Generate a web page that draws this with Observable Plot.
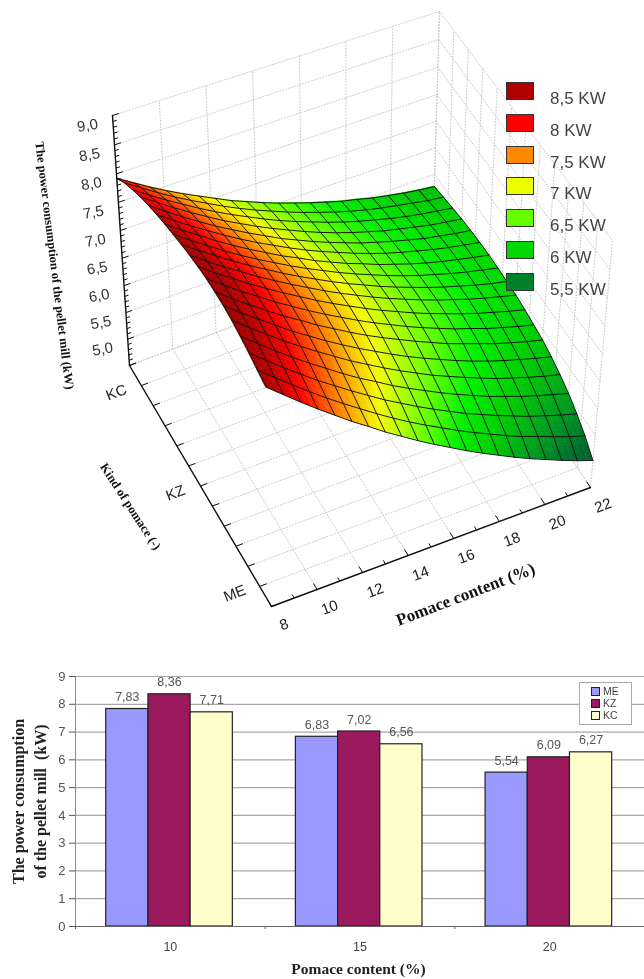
<!DOCTYPE html>
<html>
<head>
<meta charset="utf-8">
<script src="https://cdn.jsdelivr.net/npm/d3@7"></script>
<script src="https://cdn.jsdelivr.net/npm/@observablehq/plot@0.6"></script>
<style>
html,body{margin:0;padding:0;background:#fff}
#page{position:relative;width:644px;height:979px;overflow:hidden;filter:blur(0.4px)}
#page svg{display:block}
.lg{position:absolute;font-family:"Liberation Sans",Arial,sans-serif}
</style>
</head>
<body>
<div id="page"></div>
<script>
// ---------- surface chart data ----------
const pomaceTicks = [8,9,10,11,12,13,14,15,16,17,18,19,20,21,22];
const powerTicks = [4.5,5,5.5,6,6.5,7,7.5,8,8.5,9];
const kindLabels = ["KC","KZ","ME"];
const kindTickSteps = 12;
// surface: rows go from KC (back) to ME (front), columns from 8 % to 22 %
const surface = [
[7.92,7.75,7.58,7.42,7.27,7.13,6.99,6.85,6.73,6.61,6.50,6.40,6.30,6.21,6.12,6.05,5.97,5.91,5.85,5.80,5.76],
[8.08,7.90,7.72,7.55,7.39,7.24,7.09,6.95,6.82,6.70,6.58,6.47,6.37,6.27,6.18,6.10,6.03,5.97,5.91,5.85,5.81],
[8.20,8.01,7.83,7.66,7.49,7.33,7.18,7.04,6.90,6.77,6.65,6.54,6.43,6.33,6.24,6.16,6.08,6.01,5.95,5.90,5.85],
[8.31,8.12,7.93,7.75,7.58,7.41,7.26,7.11,6.97,6.84,6.71,6.59,6.48,6.38,6.29,6.20,6.13,6.06,5.99,5.94,5.89],
[8.40,8.20,8.01,7.83,7.65,7.49,7.33,7.18,7.03,6.90,6.77,6.65,6.54,6.43,6.34,6.25,6.17,6.09,6.03,5.97,5.92],
[8.48,8.28,8.09,7.91,7.73,7.56,7.40,7.25,7.10,6.96,6.83,6.71,6.59,6.48,6.38,6.29,6.21,6.13,6.06,6.00,5.94],
[8.55,8.35,8.16,7.97,7.79,7.62,7.46,7.30,7.16,7.01,6.88,6.75,6.64,6.52,6.42,6.32,6.23,6.15,6.08,6.01,5.95],
[8.61,8.41,8.22,8.03,7.85,7.68,7.52,7.36,7.21,7.07,6.93,6.80,6.68,6.56,6.45,6.35,6.26,6.17,6.09,6.02,5.95],
[8.67,8.47,8.28,8.09,7.91,7.74,7.57,7.41,7.26,7.11,6.97,6.84,6.71,6.59,6.48,6.37,6.27,6.18,6.09,6.01,5.94],
[8.72,8.52,8.32,8.14,7.95,7.78,7.61,7.45,7.29,7.14,7.00,6.86,6.73,6.61,6.49,6.38,6.28,6.18,6.09,6.01,5.93],
[8.76,8.55,8.36,8.16,7.98,7.80,7.63,7.46,7.30,7.15,7.00,6.86,6.73,6.60,6.48,6.37,6.26,6.16,6.07,5.98,5.90],
[8.79,8.58,8.37,8.18,7.98,7.80,7.62,7.45,7.29,7.13,6.98,6.84,6.70,6.57,6.45,6.33,6.23,6.12,6.03,5.94,5.86],
[8.80,8.58,8.37,8.17,7.97,7.79,7.60,7.43,7.26,7.10,6.95,6.81,6.67,6.54,6.41,6.30,6.19,6.08,5.99,5.90,5.82],
[8.80,8.57,8.36,8.15,7.94,7.75,7.56,7.38,7.21,7.05,6.89,6.74,6.60,6.47,6.34,6.22,6.11,6.01,5.92,5.83,5.75],
[8.78,8.55,8.33,8.11,7.91,7.71,7.52,7.33,7.16,6.99,6.83,6.68,6.53,6.40,6.27,6.15,6.03,5.93,5.83,5.74,5.66],
[8.74,8.51,8.28,8.06,7.85,7.65,7.45,7.26,7.09,6.91,6.75,6.60,6.45,6.31,6.18,6.05,5.94,5.83,5.73,5.64,5.55],
[8.69,8.45,8.22,8.00,7.78,7.58,7.38,7.19,7.00,6.83,6.66,6.50,6.35,6.20,6.07,5.94,5.82,5.70,5.60,5.50,5.41],
[8.63,8.39,8.16,7.93,7.71,7.50,7.30,7.10,6.91,6.73,6.56,6.40,6.24,6.09,5.95,5.81,5.68,5.57,5.45,5.34,5.24],
[8.57,8.33,8.09,7.86,7.64,7.42,7.22,7.01,6.82,6.63,6.45,6.28,6.11,5.95,5.80,5.65,5.51,5.38,5.25,5.13,5.02]
];
const surfaceStops = [4.9,5.2,5.5,5.9,6.2,6.55,7.05,7.5,8.05,8.5,9];
const surfaceRamp = ["#005a32","#006f2c","#009a20","#00d000","#00f000","#66ff00","#f4ff00","#ff9000","#ff0000","#b00000","#8a0000"];
const legendLabels = ["8,5 KW","8 KW","7,5 KW","7 KW","6,5 KW","6 KW","5,5 KW"];
const legendColors = ["#b00000","#ff0000","#ff8800","#eeff00","#66ff00","#00d800","#00802a"];

// ---------- bar chart data ----------
const contents = ["10","15","20"];
const kinds = ["ME","KZ","KC"];
const kindColors = ["#9999ff","#9b1a5e","#ffffcc"];
const valuesME = [7.83,6.83,5.54];
const valuesKZ = [8.36,7.02,6.09];
const valuesKC = [7.71,6.56,6.27];

// ---------- 3D box projection onto the page ----------
const floor = {a:[129,365],b:[432,250],c:[271,606],d:[590,487]};
const roof  = {a:[112,115],b:[439,11], c:[265,362],d:[612,240]};
const lerp = (p,q,s)=>p+(q-p)*s;
function project(u,w,t){
  const tt=t/(1+0.065*(1-t));
  const at=(o,i)=>lerp(lerp(o.a[i],o.b[i],u),lerp(o.c[i],o.d[i],u),w);
  return [lerp(at(floor,0),at(roof,0),tt),lerp(at(floor,1),at(roof,1),tt)];
}
const uOf=p=>(p-8)/14, tOf=z=>(z-4.5)/4.5;
const pt=(u,w,z)=>project(u,w,tOf(z));

// dotted box grid
const gridPts=[]; let gid=0;
function seg(a,b){const id=gid++; gridPts.push({x:a[0],y:a[1],id},{x:b[0],y:b[1],id});}
for(const p of pomaceTicks.filter(p=>p%2===0)){
  const u=uOf(p);
  seg(pt(u,0,4.5),pt(u,0,9));
  seg(pt(u,0,4.5),pt(u,1,4.5));
}
for(const z of powerTicks){
  seg(pt(0,0,z),pt(1,0,z));
  seg(pt(1,0,z),pt(1,1,z));
}
for(let i=0;i<=kindTickSteps;i++){
  const w=i/kindTickSteps;
  seg(pt(0,w,4.5),pt(1,w,4.5));
  seg(pt(1,w,4.5),pt(1,w,9));
}

// surface patches, finely split so the colours run smoothly inside a mesh cell
const nr=surface.length-1,nc=surface[0].length-1,sub=3;
function zAt(r,c){
  const r0=Math.min(Math.floor(r),nr-1),c0=Math.min(Math.floor(c),nc-1),fr=r-r0,fc=c-c0;
  return lerp(lerp(surface[r0][c0],surface[r0][c0+1],fc),lerp(surface[r0+1][c0],surface[r0+1][c0+1],fc),fr);
}
const P=(r,c)=>pt(c/nc,r/nr,zAt(r,c));
const patches=[]; let pid=0;
for(let i=0;i<nr*sub;i++)for(let j=0;j<nc*sub;j++){
  const r=i/sub,rr=(i+1)/sub,c=j/sub,cc=(j+1)/sub;
  const zm=zAt((r+rr)/2,(c+cc)/2);
  const A=P(r,c),B=P(rr,c),C=P(r,cc),D=P(rr,cc),id=pid++;
  patches.push({x1:A[0],y1:A[1],x2:B[0],y2:B[1],id,z:zm},{x1:C[0],y1:C[1],x2:D[0],y2:D[1],id,z:zm});
}
// mesh lines
const mesh=[];
surface.forEach((row,r)=>row.forEach((z,c)=>{const q=pt(c/nc,r/nr,z);mesh.push({x:q[0],y:q[1],id:"r"+r});}));
for(let c=0;c<=nc;c++)for(let r=0;r<=nr;r++){const q=pt(c/nc,r/nr,surface[r][c]);mesh.push({x:q[0],y:q[1],id:"c"+c});}

// axes
const axisPts=[];
[[pt(0,0,9),pt(0,0,4.5),"z"],[pt(0,0,4.5),pt(0,1,4.5),"k"],[pt(0,1,4.5),pt(1,1,4.5),"p"]].forEach(([a,b,id])=>{
  axisPts.push({x:a[0],y:a[1],id},{x:b[0],y:b[1],id});
});
const tickSegs=[];
function tick(a,b){tickSegs.push({x1:a[0],y1:a[1],x2:b[0],y2:b[1]});}
for(let i=0;i<=45;i++){const z=4.5+i/10,major=i%5===0;tick(pt(0,0,z),pt(major?0.02:0.012,0,z));}
for(const p of pomaceTicks){tick(pt(uOf(p),1,4.5),pt(uOf(p),p%2===0?0.975:0.985,4.5));}
for(let i=0;i<=kindTickSteps;i++){const w=i/kindTickSteps;tick(pt(0,w,4.5),pt(0.022,w,4.5));}

const zLabels=powerTicks.slice(1).map(z=>{const q=pt(0,0,z);return {x:q[0]-25,y:q[1]+10,t:z.toFixed(1).replace(".",",")};});
const pLabels=pomaceTicks.filter(p=>p%2===0).map(p=>{const q=pt(uOf(p),1,4.5);return {x:q[0]+12.5,y:q[1]+18,t:String(p)};});
const kLabels=kindLabels.map((k,i)=>{const q=pt(0,[1,6,11][i]/kindTickSteps,4.5);return {x:q[0]-25,y:q[1]+7,t:k};});

const sans='"Liberation Sans",Arial,sans-serif', serif='"Liberation Serif","Times New Roman",serif';
const top3d=Plot.plot({
  width:644,height:640,margin:0,
  x:{domain:[0,644],range:[0,644],axis:null},
  y:{domain:[0,640],range:[0,640],axis:null},
  color:{type:"linear",domain:surfaceStops,range:surfaceRamp,interpolate:"rgb"},
  style:{background:"#fff"},
  marks:[
    Plot.line(gridPts,{x:"x",y:"y",z:"id",stroke:"#c8c8c8",strokeWidth:1,strokeDasharray:"1,2"}),
    Plot.area(patches,{x1:"x1",y1:"y1",x2:"x2",y2:"y2",z:"id",fill:"z",stroke:"z",strokeWidth:0.6}),
    Plot.line(mesh,{x:"x",y:"y",z:"id",stroke:"#101010",strokeWidth:0.95,curve:"linear"}),
    Plot.line(axisPts,{x:"x",y:"y",z:"id",stroke:"#111",strokeWidth:1.4}),
    Plot.link(tickSegs,{x1:"x1",y1:"y1",x2:"x2",y2:"y2",stroke:"#111",strokeWidth:1}),
    Plot.text(zLabels,{x:"x",y:"y",text:"t",fontSize:15,fontFamily:sans,fill:"#333",rotate:-10}),
    Plot.text(pLabels,{x:"x",y:"y",text:"t",fontSize:15,fontFamily:sans,fill:"#222",rotate:-20}),
    Plot.text(kLabels,{x:"x",y:"y",text:"t",fontSize:15,fontFamily:sans,fill:"#222",rotate:-21}),
    Plot.text(["The power consumption of the pellet mill (kW)"],{x:()=>54,y:()=>265,text:d=>d,rotate:83,fontSize:12.5,fontWeight:"bold",fontFamily:serif,fill:"#111"}),
    Plot.text(["Kind of pomace (-)"],{x:()=>130,y:()=>506,text:d=>d,rotate:57,fontSize:12.5,fontWeight:"bold",fontFamily:serif,fill:"#111"}),
    Plot.text(["Pomace content (%)"],{x:()=>465,y:()=>594,text:d=>d,rotate:-21,fontSize:17,fontWeight:"bold",fontFamily:serif,fill:"#111"})
  ]
});

// ---------- bar chart ----------
const series=[valuesME,valuesKZ,valuesKC];
const bars=[];
series.forEach((vals,k)=>vals.forEach((v,g)=>{
  const start=g+0.162+k*0.2225;
  bars.push({x1:start,x2:start+0.2225,v,kind:kinds[k],label:v.toFixed(2).replace(".",",")});
}));
const bottom=Plot.plot({
  width:644,height:339,marginTop:36,marginBottom:53,marginLeft:75,marginRight:0,
  x:{domain:[0,3],axis:null},
  y:{domain:[0,9],axis:null},
  color:{type:"ordinal",domain:kinds,range:kindColors},
  style:{background:"#fff"},
  marks:[
    Plot.ruleY(d3.range(1,10),{stroke:"#a8a8a8",strokeWidth:1.2}),
    Plot.ruleX([0],{stroke:"#888"}),
    Plot.rectY(bars,{x1:"x1",x2:"x2",y:"v",fill:"kind",stroke:"#222",strokeWidth:1.2}),
    Plot.ruleY([0],{stroke:"#666",strokeWidth:1.2}),
    Plot.axisY({anchor:"left",ticks:d3.range(0,10),tickSize:6,tickPadding:4,fontSize:13,fontFamily:sans,color:"#555",label:null,tickFormat:d=>String(d)}),
    Plot.axisX({anchor:"bottom",ticks:[0,1,2,3],tickSize:3,tickFormat:()=>"",label:null,color:"#555"}),
    Plot.text(bars,{x:d=>(d.x1+d.x2)/2,y:"v",text:"label",dy:-12,fontSize:12.5,fontFamily:sans,fill:"#555"}),
    Plot.text(contents,{x:(d,i)=>i+0.5,y:()=>0,text:d=>d,dy:20,fontSize:12.5,fontFamily:sans,fill:"#444"}),
    Plot.text(["Pomace content (%)"],{x:()=>1.5,y:()=>0,dx:-1.5,dy:43,text:d=>d,fontSize:15.5,fontWeight:"bold",fontFamily:serif,fill:"#222"}),
    Plot.text(["The power consumption"],{x:()=>0,y:()=>4.5,dx:-57,text:d=>d,rotate:-90,fontSize:16,fontWeight:"bold",fontFamily:serif,fill:"#222"}),
    Plot.text(["of the pellet mill  (kW)"],{x:()=>0,y:()=>4.5,dx:-35,text:d=>d,rotate:-90,fontSize:16,fontWeight:"bold",fontFamily:serif,fill:"#222"})
  ]
});

const page=document.getElementById("page");
page.append(top3d,bottom);

// legends
legendLabels.forEach((t,i)=>{
  const s=document.createElement("div");s.className="lg";
  s.style.cssText=`left:506px;top:${82+i*31.8}px;width:26px;height:16px;background:${legendColors[i]};border:1px solid #333`;
  const l=document.createElement("div");l.className="lg";
  l.style.cssText=`left:550px;top:${88+i*31.8}px;font-size:17px;line-height:22px;color:#444;white-space:nowrap`;
  l.textContent=t;
  page.append(s,l);
});
const box=document.createElement("div");box.className="lg";
box.style.cssText="left:579px;top:682px;width:51px;height:41px;background:#fff;border:1px solid #aaa";
page.append(box);
kinds.forEach((k,i)=>{
  const s=document.createElement("div");s.className="lg";
  s.style.cssText=`left:591px;top:${687+i*11.9}px;width:7px;height:7px;background:${kindColors[i]};border:1px solid #222`;
  const l=document.createElement("div");l.className="lg";
  l.style.cssText=`left:603px;top:${685+i*12.2}px;font-size:10.5px;line-height:12px;color:#444`;
  l.textContent=k;
  page.append(s,l);
});
</script>
</body>
</html>
